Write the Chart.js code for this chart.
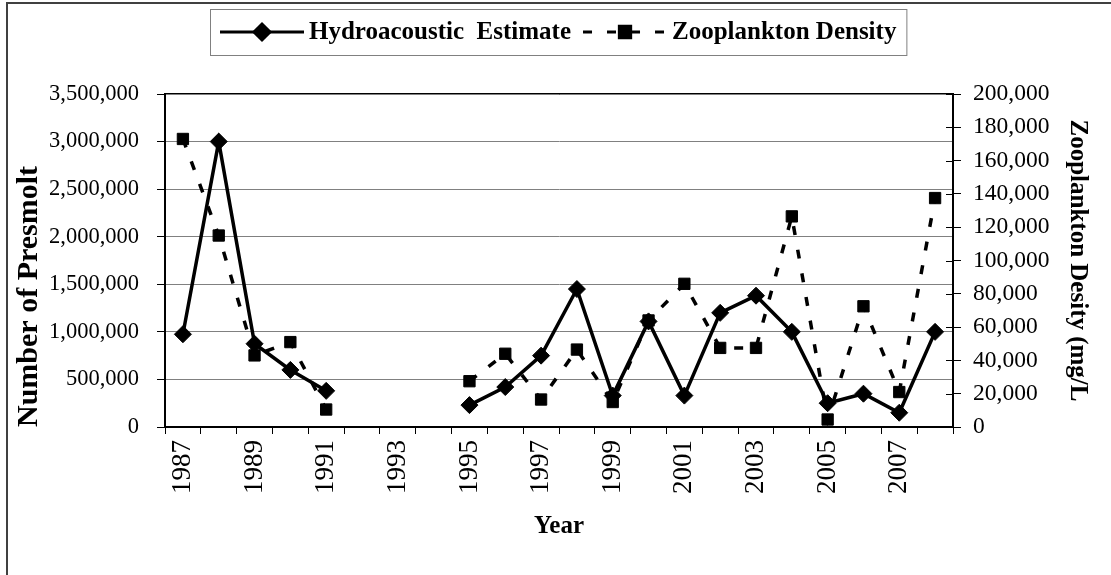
<!DOCTYPE html>
<html>
<head>
<meta charset="utf-8">
<title>Hydroacoustic Estimate and Zooplankton Density</title>
<script src="https://cdn.jsdelivr.net/npm/chart.js@4.4.1/dist/chart.umd.min.js"></script>
<style>
  html, body { margin: 0; padding: 0; background: #ffffff; }
  #wrap { position: relative; width: 1111px; height: 575px; overflow: hidden; }
</style>
</head>
<body>
<div id="wrap"><canvas id="fishChart" width="1111" height="575"></canvas></div>
<script>
const years = ['1987', '1988', '1989', '1990', '1991', '1992', '1993', '1994', '1995', '1996', '1997',
    '1998', '1999', '2000', '2001', '2002', '2003', '2004', '2005', '2006', '2007', '2008'];
const hydroEstimate = [975000, 3000000, 875000, 600000, 380000, null, null, null, 230000, 420000, 750000,
    1450000, 330000, 1110000, 330000, 1200000, 1380000, 1000000, 250000, 350000, 150000, 1000000];
const zooDensity = [173000, 115000, 43000, 51000, 10500, null, null, null, 27500, 44000, 16500,
    46500, 15000, 64000, 86000, 47500, 47500, 126500, 4500, 72500, 21000, 137500];
const leftTicks = { min: 0, max: 3500000, step: 500000 };
const rightTicks = { min: 0, max: 200000, step: 20000 };

const SERIF = "'Liberation Serif', 'Times New Roman', serif";

class FishChart {
    constructor(canvas) {
        this.canvas = canvas;
        this.ctx = canvas.getContext('2d');
        this.chart = new Chart(this.ctx, this.buildConfig());
    }

    buildConfig() {
        return {
            type: 'line',
            data: {
                labels: years,
                datasets: [{
                    label: 'Hydroacoustic  Estimate',
                    data: hydroEstimate,
                    yAxisID: 'y',
                    borderColor: '#000',
                    backgroundColor: '#000',
                    borderWidth: 3.5,
                    pointStyle: 'rectRot',
                    pointRadius: 8.5,
                    pointBorderWidth: 1,
                    spanGaps: false,
                    tension: 0,
                    clip: false
                }, {
                    label: 'Zooplankton Density',
                    data: zooDensity,
                    yAxisID: 'y1',
                    borderColor: '#000',
                    backgroundColor: '#000',
                    borderWidth: 3.5,
                    borderDash: [9, 15],
                    pointStyle: 'rect',
                    pointRadius: 8,
                    pointBorderWidth: 1,
                    spanGaps: false,
                    tension: 0,
                    clip: false
                }]
            },
            options: {
                responsive: false,
                animation: false,
                devicePixelRatio: 1,
                layout: { padding: { top: 94, left: 0, right: 0, bottom: 0 } },
                plugins: {
                    legend: { display: false },
                    tooltip: { enabled: false }
                },
                scales: {
                    x: {
                        type: 'category',
                        offset: true,
                        afterFit: (scale) => { scale.height = 148; },
                        grid: { offset: true, drawOnChartArea: false, tickLength: 7, tickColor: '#000' },
                        border: { color: '#000', width: 2 },
                        ticks: {
                            autoSkip: false,
                            maxRotation: 90,
                            minRotation: 90,
                            padding: 6,
                            color: '#000',
                            font: { family: SERIF, size: 27 },
                            callback: (val, idx) => (idx % 2 === 0 ? years[idx] : '')
                        },
                        title: {
                            display: true,
                            text: 'Year',
                            color: '#000',
                            font: { family: SERIF, size: 25, weight: 'bold' },
                            padding: { top: 0, bottom: 33 }
                        }
                    },
                    y: {
                        position: 'left',
                        min: leftTicks.min,
                        max: leftTicks.max,
                        afterFit: (scale) => { scale.width = 165; },
                        grid: { color: '#808080', lineWidth: 1, tickLength: 8, tickColor: '#000' },
                        border: { color: '#000', width: 2 },
                        ticks: {
                            stepSize: leftTicks.step,
                            padding: 18,
                            color: '#000',
                            font: { family: SERIF, size: 22.5 },
                            callback: (v) => v.toLocaleString('en-US')
                        },
                        title: {
                            display: true,
                            text: 'Number of Presmolt',
                            align: 'start',
                            color: '#000',
                            font: { family: SERIF, size: 30, weight: 'bold' },
                            padding: { top: 11, bottom: 0 }
                        }
                    },
                    y1: {
                        position: 'right',
                        min: rightTicks.min,
                        max: rightTicks.max,
                        afterFit: (scale) => { scale.width = 158; },
                        grid: { drawOnChartArea: false, tickLength: 8, tickColor: '#000' },
                        border: { color: '#000', width: 2 },
                        ticks: {
                            stepSize: rightTicks.step,
                            padding: 12,
                            color: '#000',
                            font: { family: SERIF, size: 23.5 },
                            callback: (v) => v.toLocaleString('en-US')
                        },
                        title: {
                            display: true,
                            text: 'Zooplankton Desity (mg/L',
                            color: '#000',
                            font: { family: SERIF, size: 25, weight: 'bold' },
                            padding: { top: 19, bottom: 0 }
                        }
                    }
                }
            },
            plugins: [{
                id: 'frame',
                beforeDraw: (chart) => this.drawFrame(chart),
                afterDraw: (chart) => {
                    this.drawInnerTicks(chart);
                    this.drawLegend(chart);
                }
            }]
        };
    }

    drawFrame(chart) {
        const ctx = chart.ctx;
        const area = chart.chartArea;
        ctx.save();
        // outer chart border (only top and left fall inside the picture)
        ctx.strokeStyle = '#404040';
        ctx.lineWidth = 2;
        ctx.beginPath();
        ctx.moveTo(7, chart.height);
        ctx.lineTo(7, 3);
        ctx.lineTo(chart.width, 3);
        ctx.stroke();
        // top edge of the plot area
        ctx.strokeStyle = '#000';
        ctx.beginPath();
        ctx.moveTo(area.left, area.top);
        ctx.lineTo(area.right, area.top);
        ctx.stroke();
        ctx.restore();
    }

    // right axis tick marks cross the axis line, so add the inner half
    drawInnerTicks(chart) {
        const ctx = chart.ctx;
        const scale = chart.scales.y1;
        ctx.save();
        ctx.strokeStyle = '#000';
        ctx.lineWidth = 1;
        ctx.beginPath();
        scale.ticks.forEach((t) => {
            const y = Math.round(scale.getPixelForValue(t.value)) + 0.5;
            ctx.moveTo(scale.left - 7, y);
            ctx.lineTo(scale.left, y);
        });
        ctx.stroke();
        ctx.restore();
    }

    drawLegend(chart) {
        const ctx = chart.ctx;
        const sets = chart.data.datasets;
        const midY = 32;
        ctx.save();
        ctx.font = `bold 25px ${SERIF}`;
        ctx.textBaseline = 'middle';
        ctx.fillStyle = '#000';

        let x = 220;
        const left = 210;
        sets.forEach((ds, i) => {
            const sampleW = 84;
            ctx.strokeStyle = ds.borderColor;
            ctx.lineWidth = 3;
            ctx.setLineDash(ds.borderDash || []);
            ctx.beginPath();
            ctx.moveTo(x, midY);
            ctx.lineTo(x + sampleW, midY);
            ctx.stroke();
            ctx.setLineDash([]);
            Chart.helpers.drawPoint(ctx, {
                pointStyle: ds.pointStyle,
                radius: 8,
                borderWidth: 1
            }, x + sampleW / 2, midY);
            ctx.fill();
            x += sampleW + 5;
            ctx.fillText(ds.label, x, midY + 1);
            x += ctx.measureText(ds.label).width + (i === 0 ? 12 : 10);
        });

        ctx.strokeStyle = '#808080';
        ctx.lineWidth = 1;
        ctx.strokeRect(left + 0.5, 9.5, x - left, 46);
        ctx.restore();
    }
}

document.addEventListener('DOMContentLoaded', () => {
    new FishChart(document.getElementById('fishChart'));
});
</script>
</body>
</html>
